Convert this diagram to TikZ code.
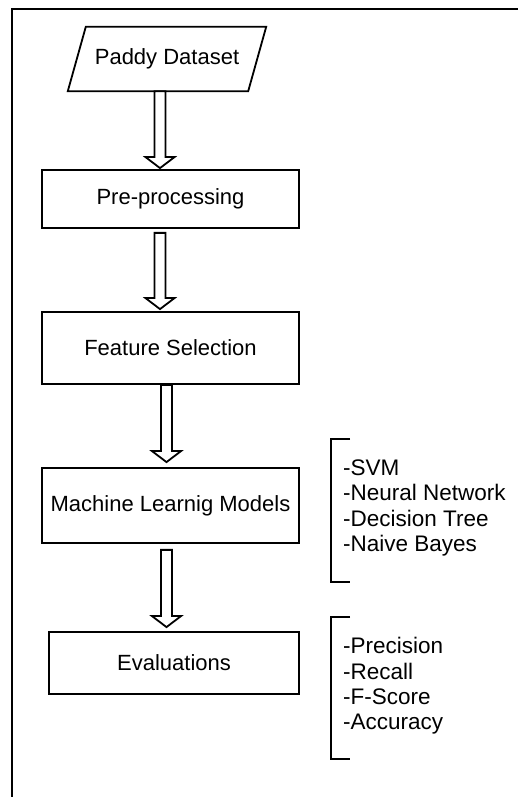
\documentclass[tikz,border=0pt]{standalone}
\usepackage{fontspec}
\setmainfont{Liberation Sans}
\usetikzlibrary{calc}
\tikzset{
  box/.style={draw, line width=1.8pt, minimum width=257pt, inner sep=0pt, font=\fontsize{22}{26}\selectfont},
  blockarrow/.style={draw, line width=1.8pt, fill=white, line join=miter},
  bracketline/.style={draw, line width=1.9pt},
  listtext/.style={anchor=west, align=left, inner sep=0pt, font=\fontsize{22.5}{25.3}\selectfont},
}
\newcommand\blockarr[5]{%
  \draw[blockarrow] let \p1=(#1.south), \p2=(#2.north) in
    (#3pt-5.5pt,\y1-#4) -- (#3pt-5.5pt,\y2+#5+11pt) -- (#3pt-14.5pt,\y2+#5+11pt)
    -- (#3pt,\y2+#5) -- (#3pt+14.5pt,\y2+#5+11pt) -- (#3pt+5.5pt,\y2+#5+11pt)
    -- (#3pt+5.5pt,\y1-#4) -- cycle;}
\begin{document}
\begin{tikzpicture}[x=1pt,y=1pt]
\useasboundingbox (0,0) rectangle (518,797);
% frame
\draw[line width=2.4pt] (518,788) -- (12,788) -- (12,0);
% dataset parallelogram
\node[inner sep=0pt, minimum width=198pt, minimum height=64pt, font=\fontsize{22}{26}\selectfont] (ds) at (167,738) {Paddy Dataset};
\draw[line width=1.8pt, line join=miter] ($(ds.north west)+(18pt,0)$) -- (ds.north east) -- ($(ds.south east)+(-18pt,0)$) -- (ds.south west) -- cycle;
% boxes
\node[box, minimum height=58pt] (pre) at (170.5,598) {Pre-processing};
\node[box, minimum height=72pt] (feat) at (170.5,449) {Feature Selection};
\node[box, minimum height=75pt] (ml) at (170.5,291.5) {Machine Learnig Models};
\node[box, minimum width=250pt, minimum height=62pt] (ev) at (174,134) {Evaluations};
% arrows
\blockarr{ds}{pre}{160}{0pt}{1pt}
\blockarr{pre}{feat}{160}{4pt}{2pt}
\blockarr{feat}{ml}{166.5}{0pt}{5pt}
\blockarr{ml}{ev}{166.5}{6pt}{4pt}
% brackets
\draw[bracketline] (350,358) -- (331,358) -- (331,215) -- (350,215);
\draw[bracketline] (350,180) -- (331,180) -- (331,38) -- (350,38);
% lists
\node[listtext] (mllist) at (343,289) {-SVM\\-Neural Network\\-Decision Tree\\-Naive Bayes};
\node[listtext] (evlist) at (343,111) {-Precision\\-Recall\\-F-Score\\-Accuracy};
\end{tikzpicture}
\end{document}
